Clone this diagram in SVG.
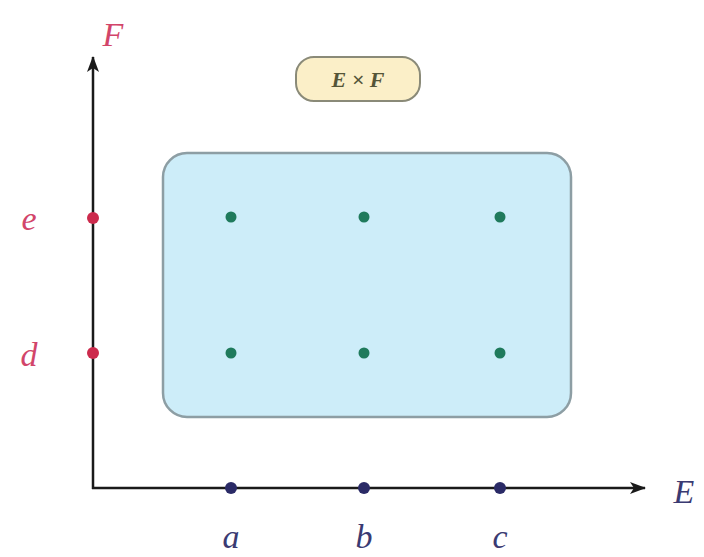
<svg xmlns="http://www.w3.org/2000/svg" width="704" height="557" viewBox="0 0 704 557">
<defs>
<style>
.lbl{font-family:"Liberation Serif","DejaVu Serif",serif;font-style:italic;font-size:34px;text-anchor:middle}
.red{fill:#d2456a}
.blue{fill:#3a3a72}
.axis{stroke:#1a1a1a;stroke-width:2.5;fill:none}
.gdot{fill:#1f7a5c}
.rdot{fill:#cc2a4c}
.bdot{fill:#2a2a66}
</style>
<marker id="arr" viewBox="0 0 16 12" refX="15" refY="6" markerWidth="16" markerHeight="12" markerUnits="userSpaceOnUse" orient="auto">
<path d="M0,0 L16,6 L0,12 L4,6 Z" fill="#1a1a1a"/>
</marker>
</defs>
<rect width="704" height="557" fill="#ffffff"/>
<g id="product-set">
<rect x="163" y="153" width="408" height="264" rx="24" fill="#cdedf9" stroke="#8d9ea4" stroke-width="2.5"/>
<circle class="gdot" cx="231" cy="217" r="5.5"/>
<circle class="gdot" cx="364" cy="217" r="5.5"/>
<circle class="gdot" cx="500" cy="217" r="5.5"/>
<circle class="gdot" cx="231" cy="353" r="5.5"/>
<circle class="gdot" cx="364" cy="353" r="5.5"/>
<circle class="gdot" cx="500" cy="353" r="5.5"/>
</g>
<g id="label-ExF">
<rect x="296" y="57" width="124" height="44" rx="18" fill="#fbefc8" stroke="#8a8a78" stroke-width="2"/>
<text x="358" y="87" font-family="Liberation Serif, serif" font-style="italic" font-weight="bold" font-size="22" fill="#555538" text-anchor="middle">E × F</text>
</g>
<g id="connectors">
<line class="axis" x1="93" y1="489" x2="93" y2="57" marker-end="url(#arr)"/>
<line class="axis" x1="92" y1="488" x2="645" y2="488" marker-end="url(#arr)"/>
</g>
<g id="axis-F">
<text class="lbl red" x="113" y="46">F</text>
<circle class="rdot" cx="93" cy="218" r="6"/>
<circle class="rdot" cx="93" cy="353" r="6"/>
<text class="lbl red" x="29" y="230">e</text>
<text class="lbl red" x="29" y="366">d</text>
</g>
<g id="axis-E">
<text class="lbl blue" x="684" y="503">E</text>
<circle class="bdot" cx="231" cy="488" r="6"/>
<circle class="bdot" cx="364" cy="488" r="6"/>
<circle class="bdot" cx="500" cy="488" r="6"/>
<text class="lbl blue" x="231" y="548">a</text>
<text class="lbl blue" x="364" y="548">b</text>
<text class="lbl blue" x="500" y="548">c</text>
</g>
</svg>
